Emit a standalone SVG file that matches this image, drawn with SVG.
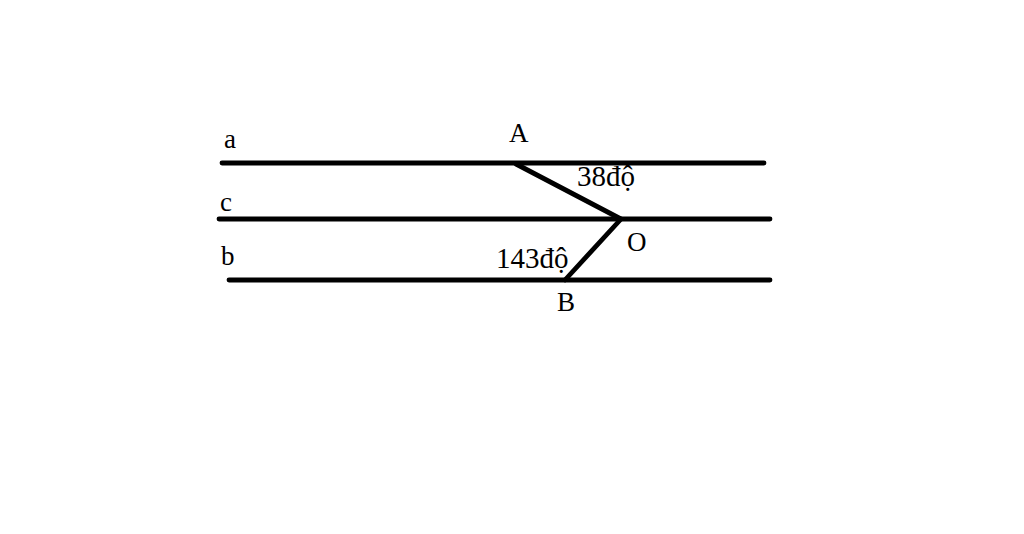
<svg xmlns="http://www.w3.org/2000/svg" width="1024" height="534" viewBox="0 0 1024 534">
<style>
.ln{stroke:#000;stroke-width:4.8;stroke-linecap:round;fill:none}
.t{font-family:"Liberation Serif","Times New Roman",serif;font-size:27px;fill:#000}
.g{font-size:29px}
</style>
<rect width="1024" height="534" fill="#fff"/>
<g id="connectors">
<line class="ln" x1="222" y1="163" x2="764" y2="163"/>
<line class="ln" x1="219" y1="219" x2="770" y2="219"/>
<line class="ln" x1="229" y1="280" x2="770" y2="280"/>
<polyline class="ln" points="516,164 621,219 565,280"/>
</g>
<g id="line-a"><text class="t" x="224" y="148">a</text></g>
<g id="line-c"><text class="t" x="220" y="211">c</text></g>
<g id="line-b"><text class="t" x="221" y="265">b</text></g>
<g id="A"><text class="t" x="509" y="142">A</text></g>
<g id="O"><text class="t" x="627" y="251">O</text></g>
<g id="B"><text class="t" x="557" y="311">B</text></g>
<g id="angle38"><text class="t g" x="577" y="186">38độ</text></g>
<g id="angle143"><text class="t g" x="496" y="268">143độ</text></g>
</svg>
